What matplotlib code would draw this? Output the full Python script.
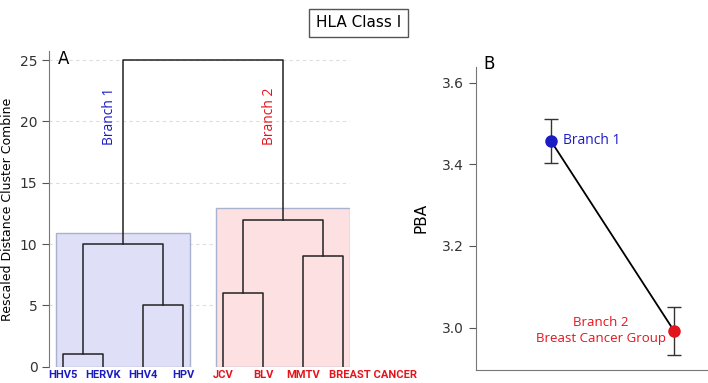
import matplotlib.pyplot as plt

# dendrogram data (panel A)
leaves = ["HHV5", "HERVK", "HHV4", "HPV", "JCV", "BLV", "MMTV", "BREAST CANCER"]
leaf_group = [1, 1, 1, 1, 2, 2, 2, 2]
# (child a, child b, height); new node ids start at len(leaves)
links = [(0, 1, 1), (2, 3, 5), (8, 9, 10), (4, 5, 6), (6, 7, 9), (11, 12, 12), (10, 13, 25)]
branch_nodes = [10, 13]

# PBA data (panel B)
groups = ["Branch 1", "Branch 2\nBreast Cancer Group"]
pba = [3.458, 2.992]
pba_err = [0.054, 0.059]

BLUE = "#1c1cc4"
RED = "#e4141c"
colors = {1: BLUE, 2: RED}

fig = plt.figure(figsize=(7.08, 3.83), dpi=100)

## ============================ Panel A ============================ ##
ax = fig.add_axes([0.0696, 0.0426, 0.4247, 0.8230])

xpos = {i: float(i) for i in range(len(leaves))}
ypos = {i: 0.0 for i in range(len(leaves))}
members = {i: [i] for i in range(len(leaves))}
for k, (a, b, h) in enumerate(links):
    n = len(leaves) + k
    ax.plot([xpos[a], xpos[a], xpos[b], xpos[b]], [ypos[a], h, h, ypos[b]],
            color="#222222", lw=1.1, zorder=3)
    xpos[n] = (xpos[a] + xpos[b]) / 2
    ypos[n] = h
    members[n] = members[a] + members[b]

# shaded boxes behind each branch
for bn in branch_nodes:
    m = members[bn]
    g = leaf_group[m[0]]
    fc = "#dfe0f8" if g == 1 else "#fde1e2"
    ax.add_patch(plt.Rectangle((min(m) - 0.17, 0), max(m) - min(m) + 0.34, ypos[bn] + 0.9,
                               facecolor=fc, edgecolor="#a9b2cc", lw=1.0, zorder=1))
    ax.text(xpos[bn] - 0.35, 20.4, f"Branch {g}", rotation=90, color=colors[g],
            ha="center", va="center", fontsize=10, family="Open Sans", zorder=4)

for y in [5, 10, 15, 20, 25]:
    ax.axhline(y, color="#dddddd", lw=0.8, ls=(0, (3, 3)), zorder=0)

for i, name in enumerate(leaves):
    last = i == len(leaves) - 1
    ax.text(i - 0.35 if last else i, -0.7, name, ha="left" if last else "center",
            va="center", fontsize=8, fontweight="bold", family="Roboto",
            color=colors[leaf_group[i]], clip_on=False)

ax.set_xlim(-0.35, 7.17)
ax.set_ylim(0, 25.7)
ax.set_xticks([])
ax.set_yticks([0, 5, 10, 15, 20, 25])
ax.tick_params(axis="y", colors="#555555", labelcolor="#333333", labelsize=10, length=5)
for s in ["top", "right", "bottom"]:
    ax.spines[s].set_visible(False)
ax.spines["left"].set_color("#777777")
ax.set_ylabel("Rescaled Distance Cluster Combine", fontsize=9, labelpad=4)
ax.text(0.0, 25.1, "A", fontsize=12, ha="center", va="center")

## ============================ Panel B ============================ ##
bx = fig.add_axes([0.6723, 0.0339, 0.3258, 0.7920])
xs = [1, 2]
bx.plot(xs, pba, color="black", lw=1.3, zorder=2)
for x, v, e, g in zip(xs, pba, pba_err, [1, 2]):
    bx.errorbar(x, v, yerr=e, fmt="none", ecolor="#333333", elinewidth=1.0, capsize=5, zorder=1)
    bx.plot(x, v, "o", color=colors[g], markersize=8, zorder=3)
bx.text(1.1, pba[0], groups[0], color=BLUE, fontsize=10, family="Open Sans",
        ha="left", va="center")
bx.text(1.41, 2.994, groups[1], color=RED, fontsize=9.5, family="Open Sans",
        ha="center", va="center", linespacing=1.3)

bx.set_xlim(0.394, 2.265)
bx.set_ylim(2.896, 3.639)
bx.set_xticks([])
bx.set_yticks([3.0, 3.2, 3.4, 3.6])
bx.set_yticklabels(["3.0", "3.2", "3.4", "3.6"])
bx.tick_params(axis="y", colors="#555555", labelcolor="#333333", labelsize=10, length=5)
for s in ["top", "right"]:
    bx.spines[s].set_visible(False)
bx.spines["left"].set_color("#777777")
bx.spines["bottom"].set_color("#777777")
bx.set_ylabel("PBA", fontsize=11, labelpad=10)
bx.text(0.5, 3.645, "B", fontsize=12, ha="center", va="center")

fig.text(0.506, 0.94, "HLA Class Ⅰ", ha="center", va="center", fontsize=11,
         bbox=dict(boxstyle="square,pad=0.45", facecolor="white", edgecolor="#555555", lw=1))

plt.savefig("out.png", dpi=100)
